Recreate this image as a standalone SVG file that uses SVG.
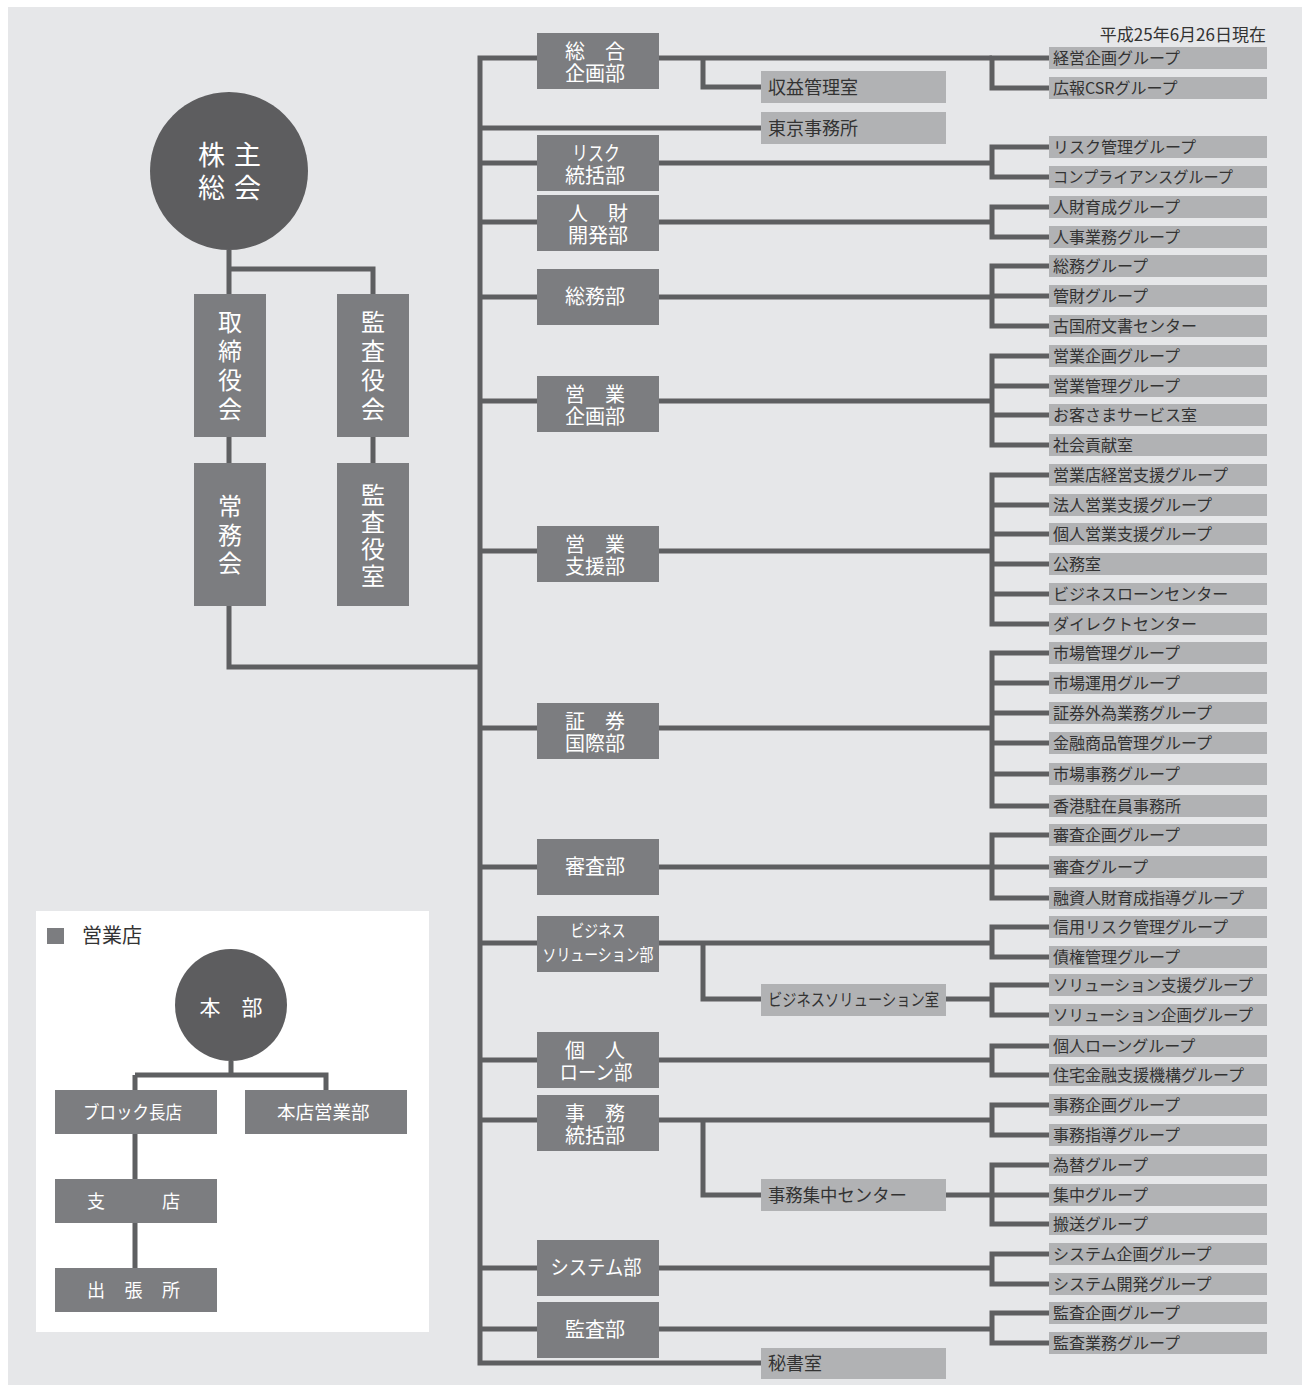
<svg xmlns="http://www.w3.org/2000/svg" width="1306" height="1385" viewBox="0 0 1306 1385">
<style>
text{font-family:"Noto Sans CJK JP","Noto Sans",sans-serif}
.dept{fill:#7c7d80}
.grp{fill:#b1b2b4}
.dark{fill:#5d5d5f}
.wt{fill:#ffffff}
.dt{fill:#ffffff;font-size:20px;text-anchor:middle}
.vt{fill:#ffffff;font-size:24px;text-anchor:middle}
.gt{fill:#333333;font-size:16px}
.st{fill:#333333;font-size:18px}
.it{fill:#ffffff;font-size:18px}
.ln{fill:none;stroke:#5e5f61;stroke-width:5;stroke-linejoin:miter}
</style>
<rect x="8" y="7" width="1294" height="1378" fill="#e6e7e9"/>
<rect x="36" y="911" width="393" height="421" fill="#ffffff"/>
<text x="1266" y="41" text-anchor="end" style="fill:#333333;font-size:17px">平成25年6月26日現在</text>

<g id="connectors" class="ln">
<path d="M229,250 V294 M229,269 H373 V294"/>
<path d="M229,437 V463 M373,437 V463"/>
<path d="M229,606 V667 H480"/>
<path d="M537,58 H480 V1363 H761"/>
<path d="M480,128 H761 M480,163 H537 M480,222 H537 M480,297 H537 M480,401 H537 M480,551 H537 M480,728 H537 M480,867 H537 M480,943 H537 M480,1060 H537 M480,1120 H537 M480,1268 H537 M480,1329 H537"/>
<path d="M659,58 H992 M659,163 H992 M659,222 H992 M659,297 H992 M659,401 H992 M659,551 H992 M659,728 H992 M659,867 H992 M659,943 H992 M659,1060 H992 M659,1120 H992 M659,1268 H992 M659,1329 H992"/>
<path d="M703,58 V87 H761 M703,943 V999 H761 M946,999 H992 M703,1120 V1195 H761 M946,1195 H992"/>
<path d="M1049,58 H992 V88 H1049"/>
<path d="M1049,147 H992 V177 H1049"/>
<path d="M1049,207 H992 V237 H1049"/>
<path d="M1049,266 H992 V326 H1049 M992,296 H1049"/>
<path d="M1049,356 H992 V445 H1049 M992,386 H1049 M992,415 H1049"/>
<path d="M1049,475 H992 V624 H1049 M992,505 H1049 M992,534 H1049 M992,564 H1049 M992,594 H1049"/>
<path d="M1049,653 H992 V806 H1049 M992,683 H1049 M992,713 H1049 M992,743 H1049 M992,774 H1049"/>
<path d="M1049,835 H992 V898 H1049 M992,867 H1049"/>
<path d="M1049,927 H992 V957 H1049"/>
<path d="M1049,985 H992 V1015 H1049"/>
<path d="M1049,1046 H992 V1075 H1049"/>
<path d="M1049,1105 H992 V1135 H1049"/>
<path d="M1049,1165 H992 V1224 H1049 M992,1195 H1049"/>
<path d="M1049,1254 H992 V1284 H1049"/>
<path d="M1049,1313 H992 V1343 H1049"/>
<path d="M231,1061 V1075 M135,1075 H326 V1090 M135,1075 V1268"/>
</g>

<g id="shareholders">
<circle cx="229" cy="171" r="79" class="dark"/>
<text x="198" y="164.5" class="wt" style="font-size:27px;letter-spacing:9px">株主</text>
<text x="198" y="197.5" class="wt" style="font-size:27px;letter-spacing:9px">総会</text>
</g>
<g id="board">
<rect x="194" y="294" width="72" height="143" class="dept"/>
<text class="vt"><tspan x="230" y="331">取</tspan><tspan x="230" y="360">締</tspan><tspan x="230" y="389">役</tspan><tspan x="230" y="418">会</tspan></text>
</g>
<g id="auditors">
<rect x="337" y="294" width="72" height="143" class="dept"/>
<text class="vt"><tspan x="373" y="331">監</tspan><tspan x="373" y="360">査</tspan><tspan x="373" y="389">役</tspan><tspan x="373" y="418">会</tspan></text>
</g>
<g id="executive">
<rect x="194" y="463" width="72" height="143" class="dept"/>
<text class="vt"><tspan x="230" y="515">常</tspan><tspan x="230" y="543.5">務</tspan><tspan x="230" y="572">会</tspan></text>
</g>
<g id="auditors-office">
<rect x="337" y="463" width="72" height="143" class="dept"/>
<text class="vt"><tspan x="373" y="503.5">監</tspan><tspan x="373" y="531">査</tspan><tspan x="373" y="558">役</tspan><tspan x="373" y="585">室</tspan></text>
</g>

<g id="dept-sogo"><rect x="537" y="33" width="122" height="56" class="dept"/><text class="dt"><tspan x="595" y="58.5">総　合</tspan><tspan x="595" y="80.5">企画部</tspan></text></g>
<g id="dept-risk"><rect x="537" y="135" width="122" height="56" class="dept"/><text class="dt"><tspan x="596" y="161" textLength="48" lengthAdjust="spacingAndGlyphs">リスク</tspan><tspan x="595" y="182.5">統括部</tspan></text></g>
<g id="dept-jinzai"><rect x="537" y="195" width="122" height="56" class="dept"/><text class="dt"><tspan x="598" y="221">人　財</tspan><tspan x="598" y="242.5">開発部</tspan></text></g>
<g id="dept-somu"><rect x="537" y="269" width="122" height="56" class="dept"/><text class="dt" x="595" y="304">総務部</text></g>
<g id="dept-eigyo-kikaku"><rect x="537" y="376" width="122" height="56" class="dept"/><text class="dt"><tspan x="595" y="402">営　業</tspan><tspan x="595" y="423.5">企画部</tspan></text></g>
<g id="dept-eigyo-shien"><rect x="537" y="526" width="122" height="56" class="dept"/><text class="dt"><tspan x="595" y="552">営　業</tspan><tspan x="595" y="573.5">支援部</tspan></text></g>
<g id="dept-shoken"><rect x="537" y="703" width="122" height="56" class="dept"/><text class="dt"><tspan x="595" y="729">証　券</tspan><tspan x="595" y="750.5">国際部</tspan></text></g>
<g id="dept-shinsa"><rect x="537" y="839" width="122" height="56" class="dept"/><text class="dt" x="595" y="874">審査部</text></g>
<g id="dept-bizsol"><rect x="537" y="916" width="122" height="56" class="dept"/><text class="dt" style="font-size:17px"><tspan x="598" y="937" textLength="55" lengthAdjust="spacingAndGlyphs">ビジネス</tspan><tspan x="598" y="961" textLength="111" lengthAdjust="spacingAndGlyphs">ソリューション部</tspan></text></g>
<g id="dept-kojin"><rect x="537" y="1032" width="122" height="56" class="dept"/><text class="dt"><tspan x="595" y="1058">個　人</tspan><tspan x="596" y="1079.5" textLength="73" lengthAdjust="spacingAndGlyphs">ローン部</tspan></text></g>
<g id="dept-jimu"><rect x="537" y="1095" width="122" height="56" class="dept"/><text class="dt"><tspan x="595" y="1121">事　務</tspan><tspan x="595" y="1142.5">統括部</tspan></text></g>
<g id="dept-system"><rect x="537" y="1240" width="122" height="56" class="dept"/><text class="dt" x="596" y="1275" textLength="91" lengthAdjust="spacingAndGlyphs">システム部</text></g>
<g id="dept-kansa"><rect x="537" y="1302" width="122" height="56" class="dept"/><text class="dt" x="595" y="1337">監査部</text></g>

<g id="sub-shueki"><rect x="761" y="71" width="185" height="32" class="grp"/><text class="st" x="768" y="94">収益管理室</text></g>
<g id="sub-tokyo"><rect x="761" y="112" width="185" height="32" class="grp"/><text class="st" x="768" y="135">東京事務所</text></g>
<g id="sub-bizsol"><rect x="761" y="984" width="185" height="32" class="grp"/><text class="st" x="768" y="1006" style="font-size:17px" textLength="171" lengthAdjust="spacingAndGlyphs">ビジネスソリューション室</text></g>
<g id="sub-jimushuchu"><rect x="761" y="1179" width="185" height="32" class="grp"/><text class="st" x="768" y="1202" textLength="139" lengthAdjust="spacingAndGlyphs">事務集中センター</text></g>
<g id="sub-hisho"><rect x="761" y="1348" width="185" height="31" class="grp"/><text class="st" x="768" y="1370">秘書室</text></g>

<g id="groups">
<g id="g01"><rect x="1049" y="47" width="218" height="22" class="grp"/><text class="gt" x="1053" y="64">経営企画グループ</text></g>
<g id="g02"><rect x="1049" y="77" width="218" height="22" class="grp"/><text class="gt" x="1053" y="94">広報CSRグループ</text></g>
<g id="g03"><rect x="1049" y="136" width="218" height="22" class="grp"/><text class="gt" x="1053" y="153">リスク管理グループ</text></g>
<g id="g04"><rect x="1049" y="166" width="218" height="22" class="grp"/><text class="gt" x="1053" y="183" textLength="180" lengthAdjust="spacingAndGlyphs">コンプライアンスグループ</text></g>
<g id="g05"><rect x="1049" y="196" width="218" height="22" class="grp"/><text class="gt" x="1053" y="213">人財育成グループ</text></g>
<g id="g06"><rect x="1049" y="226" width="218" height="22" class="grp"/><text class="gt" x="1053" y="243">人事業務グループ</text></g>
<g id="g07"><rect x="1049" y="255" width="218" height="22" class="grp"/><text class="gt" x="1053" y="272">総務グループ</text></g>
<g id="g08"><rect x="1049" y="285" width="218" height="22" class="grp"/><text class="gt" x="1053" y="302">管財グループ</text></g>
<g id="g09"><rect x="1049" y="315" width="218" height="22" class="grp"/><text class="gt" x="1053" y="332">古国府文書センター</text></g>
<g id="g10"><rect x="1049" y="345" width="218" height="22" class="grp"/><text class="gt" x="1053" y="362">営業企画グループ</text></g>
<g id="g11"><rect x="1049" y="375" width="218" height="22" class="grp"/><text class="gt" x="1053" y="392">営業管理グループ</text></g>
<g id="g12"><rect x="1049" y="404" width="218" height="22" class="grp"/><text class="gt" x="1053" y="421">お客さまサービス室</text></g>
<g id="g13"><rect x="1049" y="434" width="218" height="22" class="grp"/><text class="gt" x="1053" y="451">社会貢献室</text></g>
<g id="g14"><rect x="1049" y="464" width="218" height="22" class="grp"/><text class="gt" x="1053" y="481">営業店経営支援グループ</text></g>
<g id="g15"><rect x="1049" y="494" width="218" height="22" class="grp"/><text class="gt" x="1053" y="511">法人営業支援グループ</text></g>
<g id="g16"><rect x="1049" y="523" width="218" height="22" class="grp"/><text class="gt" x="1053" y="540">個人営業支援グループ</text></g>
<g id="g17"><rect x="1049" y="553" width="218" height="22" class="grp"/><text class="gt" x="1053" y="570">公務室</text></g>
<g id="g18"><rect x="1049" y="583" width="218" height="22" class="grp"/><text class="gt" x="1053" y="600">ビジネスローンセンター</text></g>
<g id="g19"><rect x="1049" y="613" width="218" height="22" class="grp"/><text class="gt" x="1053" y="630">ダイレクトセンター</text></g>
<g id="g20"><rect x="1049" y="642" width="218" height="22" class="grp"/><text class="gt" x="1053" y="659">市場管理グループ</text></g>
<g id="g21"><rect x="1049" y="672" width="218" height="22" class="grp"/><text class="gt" x="1053" y="689">市場運用グループ</text></g>
<g id="g22"><rect x="1049" y="702" width="218" height="22" class="grp"/><text class="gt" x="1053" y="719">証券外為業務グループ</text></g>
<g id="g23"><rect x="1049" y="732" width="218" height="22" class="grp"/><text class="gt" x="1053" y="749">金融商品管理グループ</text></g>
<g id="g24"><rect x="1049" y="763" width="218" height="22" class="grp"/><text class="gt" x="1053" y="780">市場事務グループ</text></g>
<g id="g25"><rect x="1049" y="795" width="218" height="22" class="grp"/><text class="gt" x="1053" y="812">香港駐在員事務所</text></g>
<g id="g26"><rect x="1049" y="824" width="218" height="22" class="grp"/><text class="gt" x="1053" y="841">審査企画グループ</text></g>
<g id="g27"><rect x="1049" y="856" width="218" height="22" class="grp"/><text class="gt" x="1053" y="873">審査グループ</text></g>
<g id="g28"><rect x="1049" y="887" width="218" height="22" class="grp"/><text class="gt" x="1053" y="904">融資人財育成指導グループ</text></g>
<g id="g29"><rect x="1049" y="916" width="218" height="22" class="grp"/><text class="gt" x="1053" y="933">信用リスク管理グループ</text></g>
<g id="g30"><rect x="1049" y="946" width="218" height="22" class="grp"/><text class="gt" x="1053" y="963">債権管理グループ</text></g>
<g id="g31"><rect x="1049" y="974" width="218" height="22" class="grp"/><text class="gt" x="1053" y="991" textLength="200" lengthAdjust="spacingAndGlyphs">ソリューション支援グループ</text></g>
<g id="g32"><rect x="1049" y="1004" width="218" height="22" class="grp"/><text class="gt" x="1053" y="1021" textLength="200" lengthAdjust="spacingAndGlyphs">ソリューション企画グループ</text></g>
<g id="g33"><rect x="1049" y="1035" width="218" height="22" class="grp"/><text class="gt" x="1053" y="1052">個人ローングループ</text></g>
<g id="g34"><rect x="1049" y="1064" width="218" height="22" class="grp"/><text class="gt" x="1053" y="1081">住宅金融支援機構グループ</text></g>
<g id="g35"><rect x="1049" y="1094" width="218" height="22" class="grp"/><text class="gt" x="1053" y="1111">事務企画グループ</text></g>
<g id="g36"><rect x="1049" y="1124" width="218" height="22" class="grp"/><text class="gt" x="1053" y="1141">事務指導グループ</text></g>
<g id="g37"><rect x="1049" y="1154" width="218" height="22" class="grp"/><text class="gt" x="1053" y="1171">為替グループ</text></g>
<g id="g38"><rect x="1049" y="1184" width="218" height="22" class="grp"/><text class="gt" x="1053" y="1201">集中グループ</text></g>
<g id="g39"><rect x="1049" y="1213" width="218" height="22" class="grp"/><text class="gt" x="1053" y="1230">搬送グループ</text></g>
<g id="g40"><rect x="1049" y="1243" width="218" height="22" class="grp"/><text class="gt" x="1053" y="1260">システム企画グループ</text></g>
<g id="g41"><rect x="1049" y="1273" width="218" height="22" class="grp"/><text class="gt" x="1053" y="1290">システム開発グループ</text></g>
<g id="g42"><rect x="1049" y="1302" width="218" height="22" class="grp"/><text class="gt" x="1053" y="1319">監査企画グループ</text></g>
<g id="g43"><rect x="1049" y="1332" width="218" height="22" class="grp"/><text class="gt" x="1053" y="1349">監査業務グループ</text></g>
</g>

<g id="branch-legend">
<rect x="47" y="928" width="17" height="16" class="dept"/>
<text x="82" y="943" style="fill:#333333;font-size:20px">営業店</text>
</g>
<g id="honbu"><circle cx="231" cy="1005" r="56" class="dark"/><text x="231" y="1015" class="wt" style="font-size:21px" text-anchor="middle">本　部</text></g>
<g id="block"><rect x="55" y="1090" width="162" height="44" class="dept"/><text class="it" x="83" y="1119" textLength="99" lengthAdjust="spacingAndGlyphs">ブロック長店</text></g>
<g id="honten"><rect x="245" y="1090" width="162" height="44" class="dept"/><text class="it" x="277" y="1119" style="font-size:18.5px">本店営業部</text></g>
<g id="shiten"><rect x="55" y="1179" width="162" height="44" class="dept"/><text class="it" x="87" y="1208" style="letter-spacing:57px">支店</text></g>
<g id="shuchojo"><rect x="55" y="1268" width="162" height="44" class="dept"/><text class="it" x="87" y="1297" style="letter-spacing:19.5px">出張所</text></g>
</svg>
